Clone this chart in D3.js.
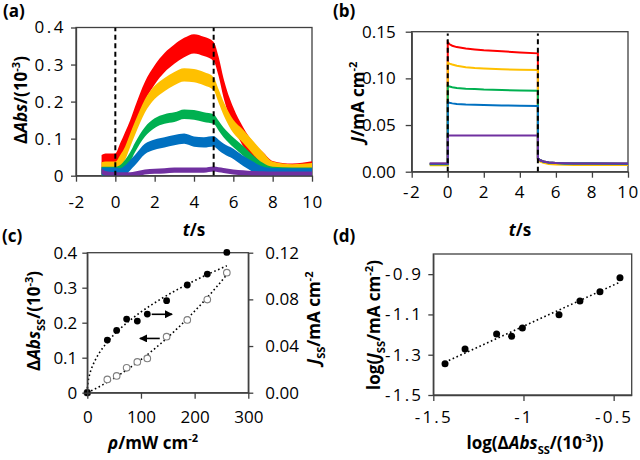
<!DOCTYPE html>
<html><head><meta charset="utf-8">
<script src="https://cdn.jsdelivr.net/npm/d3@7"></script>
<style>
body{margin:0;background:#fff}
svg{display:block}
text{font-family:'Open Sans',sans-serif;fill:#000}
</style>
</head><body>
<svg id="chart" width="640" height="460"></svg>
<script>
// ---------- DATA ----------
const seriesColors = ["#FF0000", "#FFC000", "#00B050", "#0070C0", "#7030A0"];

// (a) transient absorption, time (s) and band centres (10^-3)
const tA = [-0.7, -0.5, 0, 0.25, 0.5, 0.75, 1, 1.5, 2, 2.5, 3, 3.5, 4, 4.5, 5, 5.25, 5.5, 6, 6.5, 7, 7.5, 8, 9, 10];
const absRed    = [0.030,0.034,0.034,0.062,0.092,0.123,0.160,0.227,0.272,0.305,0.328,0.346,0.356,0.349,0.335,0.295,0.237,0.158,0.105,0.065,0.038,0.014,0.007,0.013];
const absYellow = [0.018,0.020,0.020,0.038,0.061,0.095,0.128,0.188,0.225,0.246,0.262,0.272,0.270,0.262,0.248,0.215,0.182,0.133,0.106,0.076,0.046,0.020,0.013,0.016];
const absGreen  = [0.011,0.011,0.011,0.016,0.030,0.050,0.076,0.118,0.142,0.153,0.158,0.166,0.164,0.158,0.153,0.135,0.117,0.090,0.067,0.042,0.022,0.011,0.009,0.009];
const absBlue   = [0.009,0.008,0.008,0.006,0.014,0.028,0.042,0.072,0.084,0.090,0.096,0.100,0.092,0.090,0.093,0.083,0.073,0.059,0.040,0.024,0.011,0.007,0.006,0.006];
const absPurple = [0.012,0.006,0.003,0.002,0.002,0.002,0.004,0.010,0.012,0.013,0.015,0.015,0.015,0.015,0.018,0.016,0.014,0.010,0.008,0.006,0.005,0.004,0.004,0.004];
const absNoise  = [0.026, 0.018, 0.013, 0.014, 0.007];  // half-width of the noisy band

// (b) photocurrent, time (s) and J (mA cm-2)
const tB = [-1, 0, 0, 0.1, 0.25, 0.5, 1, 1.5, 2, 3, 4, 5, 5, 5.1, 5.3, 5.6, 6, 6.5, 7, 8, 10];
const jRed    = [0.0085,0.0085,0.1386,0.1365,0.1350,0.1335,0.1320,0.1310,0.1300,0.1290,0.1278,0.1268,0.0145,0.0125,0.0110,0.0098,0.0092,0.0089,0.0088,0.0087,0.0086];
const jYellow = [0.0070,0.0070,0.1168,0.1158,0.1148,0.1135,0.1120,0.1110,0.1105,0.1098,0.1093,0.1089,0.0130,0.0110,0.0095,0.0083,0.0077,0.0074,0.0073,0.0072,0.0071];
const jGreen  = [0.0080,0.0080,0.0921,0.0912,0.0905,0.0898,0.0890,0.0885,0.0880,0.0875,0.0871,0.0868,0.0145,0.0125,0.0110,0.0098,0.0092,0.0089,0.0088,0.0087,0.0086];
const jBlue   = [0.0085,0.0085,0.0743,0.0738,0.0732,0.0726,0.0720,0.0717,0.0714,0.0710,0.0707,0.0704,0.0145,0.0125,0.0110,0.0098,0.0092,0.0089,0.0088,0.0087,0.0086];
const jPurple = [0.0088,0.0088,0.0387,0.0387,0.0387,0.0387,0.0387,0.0387,0.0387,0.0387,0.0388,0.0388,0.0145,0.0125,0.0110,0.0099,0.0093,0.0090,0.0089,0.0088,0.0087];

// (c) steady-state values vs light intensity
const rho   = [0, 37.3, 54.7, 73.3, 93.2, 111.8, 147.8, 186.3, 223.6, 260];
const absSS = [0, 0.038, 0.048, 0.071, 0.088, 0.098, 0.160, 0.208, 0.266, 0.343];
const jSS   = [0, 0.0451, 0.0534, 0.0631, 0.0614, 0.0674, 0.0789, 0.0923, 0.1017, 0.1202];

// (d) log-log
const logAbs = [-1.435, -1.324, -1.149, -1.066, -1.006, -0.803, -0.687, -0.576, -0.465];
const logJ   = [-1.345, -1.272, -1.197, -1.208, -1.167, -1.102, -1.033, -0.988, -0.918];

// ticks
const ticksAx = [-2, 0, 2, 4, 6, 8, 10];
const labelsAx = ["-2", "0", "2", "4", "6", "8", "10"];
const ticksAy = [0, 0.1, 0.2, 0.3, 0.4];
const labelsAy = ["0", "0.1", "0.2", "0.3", "0.4"];
const ticksBy = [0, 0.05, 0.10, 0.15];
const labelsBy = ["0.00", "0.05", "0.10", "0.15"];
const ticksCx = [0, 100, 200, 300];
const labelsCx = ["0", "100", "200", "300"];
const ticksCy = [0, 0.1, 0.2, 0.3, 0.4];
const labelsCy = ["0", "0.1", "0.2", "0.3", "0.4"];
const ticksCy2 = [0, 0.04, 0.08, 0.12];
const labelsCy2 = ["0.00", "0.04", "0.08", "0.12"];
const ticksDx = [-1.5, -1, -0.5];
const labelsDx = ["-1.5", "-1", "-0.5"];
const ticksDy = [-1.5, -1.3, -1.1, -0.9];
const labelsDy = ["-1.5", "-1.3", "-1.1", "-0.9"];
const switchTimes = [0, 5];
// arrows in (c): [rho from, rho to, left-axis value]
const arrowsC = [[120, 158, 0.224], [135, 98, 0.155]];

// ---------- DRAWING ----------
const svg = d3.select("#chart");
const AX = "#404040";
const defs = svg.append("defs");
defs.append("marker").attr("id", "arr").attr("viewBox", "0 0 10 10").attr("refX", 9).attr("refY", 5)
  .attr("markerWidth", 5).attr("markerHeight", 5).attr("orient", "auto")
  .append("path").attr("d", "M0,0L10,5L0,10Z").attr("fill", "#000");

function rich(x, y, parts, size, rotate) {
  const t = svg.append("text").attr("transform", `translate(${x},${y}) rotate(${rotate || 0})`)
    .attr("text-anchor", "middle").attr("font-size", size).attr("font-weight", "bold");
  let shift = 0;
  parts.forEach(([s, k]) => {
    const ts = t.append("tspan").text(s);
    const target = k === "sub" ? 0.28 * size : k === "sup" ? -0.42 * size : 0;
    ts.attr("dy", target - shift); shift = target;
    if (k === "sub" || k === "sup") ts.attr("font-size", size * 0.65);
    if (k === "i") ts.attr("font-style", "italic");
  });
}
function styleAxis(g, spacing) {
  g.selectAll(".domain").attr("stroke", AX).attr("stroke-width", 1.3);
  g.selectAll(".tick line").attr("stroke", AX).attr("stroke-width", 1.3);
  g.selectAll(".tick text").attr("font-size", 17).attr("fill", "#000")
    .attr("font-family", "'Open Sans',sans-serif").attr("letter-spacing", spacing || 0);
}
function frame(x0, x1, y0, y1) {
  svg.append("rect").attr("x", x0).attr("y", y1).attr("width", x1 - x0).attr("height", y0 - y1)
    .attr("fill", "none").attr("stroke", AX).attr("stroke-width", 1.3);
}
function clip(id, x0, x1, y0, y1) {
  defs.append("clipPath").attr("id", id).append("rect").attr("x", x0).attr("y", y1).attr("width", x1 - x0).attr("height", y0 - y1);
}
const lab = arr => (d, i) => arr[i];

// ---- (a) ----
{
  const x = d3.scaleLinear().domain([-2, 10]).range([76, 312]);
  const y = d3.scaleLinear().domain([0, 0.4]).range([175.7, 27.5]);
  clip("clipA", 76, 312, 175.7, 27.5);
  frame(76, 312, 175.7, 27.5);
  const data = [absRed, absYellow, absGreen, absBlue, absPurple];
  const g = svg.append("g").attr("clip-path", "url(#clipA)");
  data.forEach((vals, i) => {
    const area = d3.area().x((d, j) => x(tA[j])).y0(d => y(d - absNoise[i])).y1(d => y(d + absNoise[i])).curve(d3.curveMonotoneX);
    g.append("path").attr("d", area(vals)).attr("fill", seriesColors[i]);
  });
  switchTimes.forEach(t => g.append("line").attr("x1", x(t)).attr("x2", x(t)).attr("y1", y(0)).attr("y2", y(0.4))
    .attr("stroke", "#000").attr("stroke-width", 2).attr("stroke-dasharray", "5,3.5"));
  const gx = svg.append("g").attr("transform", `translate(0,${y(0)})`)
    .call(d3.axisBottom(x).tickValues(ticksAx).tickSize(6).tickSizeOuter(0).tickPadding(14).tickFormat(lab(labelsAx)));
  styleAxis(gx, 0.5);
  const gy = svg.append("g").attr("transform", `translate(${x(-2)},0)`)
    .call(d3.axisLeft(y).tickValues(ticksAy).tickSize(5).tickSizeOuter(0).tickPadding(5).tickFormat(lab(labelsAy)));
  styleAxis(gy, 2.5);
  rich(27, 100, [["Δ"], ["Abs", "i"], ["/(10"], ["-3", "sup"], [")"]], 17, -90);
  rich(194, 236, [["t", "i"], ["/s"]], 17);
  svg.append("text").attr("x", 3).attr("y", 17).attr("font-size", 17).attr("font-weight", "bold").text("(a)");
}

// ---- (b) ----
{
  const x = d3.scaleLinear().domain([-2, 10]).range([411.7, 628]);
  const y = d3.scaleLinear().domain([0, 0.15]).range([171.7, 31.7]);
  frame(411.7, 628, 171.7, 31.7);
  const data = [jRed, jYellow, jGreen, jBlue, jPurple];
  const line = d3.line().x((d, j) => x(tB[j])).y(d => y(d));
  data.forEach((vals, i) => svg.append("path").attr("d", line(vals)).attr("fill", "none")
    .attr("stroke", seriesColors[i]).attr("stroke-width", 2));
  switchTimes.forEach(t => svg.append("line").attr("x1", x(t)).attr("x2", x(t)).attr("y1", y(0)).attr("y2", y(0.148))
    .attr("stroke", "#000").attr("stroke-width", 2).attr("stroke-dasharray", "5,3.5"));
  const gx = svg.append("g").attr("transform", `translate(0,${y(0)})`)
    .call(d3.axisBottom(x).tickValues(ticksAx).tickSize(6).tickSizeOuter(0).tickPadding(8).tickFormat(lab(labelsAx)));
  styleAxis(gx, 1.5);
  const gy = svg.append("g").attr("transform", `translate(${x(-2)},0)`)
    .call(d3.axisLeft(y).tickValues(ticksBy).tickSize(6).tickSizeOuter(0).tickPadding(10).tickFormat(lab(labelsBy)));
  styleAxis(gy, 0);
  rich(364, 102, [["J", "i"], ["/mA cm"], ["-2", "sup"]], 17, -90);
  rich(520, 236, [["t", "i"], ["/s"]], 17);
  svg.append("text").attr("x", 333).attr("y", 17).attr("font-size", 17).attr("font-weight", "bold").text("(b)");
}

// least-squares fits computed from the data
function powerFit(xs, ys) {
  const pts = xs.map((v, i) => [v, ys[i]]).filter(p => p[0] > 0 && p[1] > 0).map(p => [Math.log(p[0]), Math.log(p[1])]);
  const mx = d3.mean(pts, p => p[0]), my = d3.mean(pts, p => p[1]);
  const b = d3.sum(pts, p => (p[0] - mx) * (p[1] - my)) / d3.sum(pts, p => (p[0] - mx) ** 2);
  const a = Math.exp(my - b * mx);
  return v => a * Math.pow(v, b);
}
function quadFit0(xs, ys) { // y = b1 x + b2 x^2
  const s2 = d3.sum(xs, v => v ** 2), s3 = d3.sum(xs, v => v ** 3), s4 = d3.sum(xs, v => v ** 4);
  const sy1 = d3.sum(xs, (v, i) => v * ys[i]), sy2 = d3.sum(xs, (v, i) => v * v * ys[i]);
  const det = s2 * s4 - s3 * s3;
  const b1 = (sy1 * s4 - s3 * sy2) / det, b2 = (s2 * sy2 - s3 * sy1) / det;
  return v => b1 * v + b2 * v * v;
}
function linFit(xs, ys) {
  const mx = d3.mean(xs), my = d3.mean(ys);
  const b = d3.sum(xs, (v, i) => (v - mx) * (ys[i] - my)) / d3.sum(xs, v => (v - mx) ** 2);
  return v => my + b * (v - mx);
}

// ---- (c) ----
{
  const x = d3.scaleLinear().domain([0, 300]).range([87.3, 248.3]);
  const y = d3.scaleLinear().domain([0, 0.4]).range([392.7, 252.7]);
  const y2 = d3.scaleLinear().domain([0, 0.12]).range([392.7, 252.7]);
  frame(87.3, 248.3, 392.7, 252.7);
  const fJ = powerFit(rho, jSS), fA = quadFit0(rho, absSS);
  const rhoMax = d3.max(rho);
  const xs = d3.range(0, 201).map(i => rhoMax * Math.pow(i / 200, 1.6));
  const dots = "1.6,2.6";
  svg.append("path").attr("d", d3.line().x(v => x(v)).y(v => y2(fJ(v)))(xs)).attr("fill", "none")
    .attr("stroke", "#000").attr("stroke-width", 1.6).attr("stroke-dasharray", dots);
  svg.append("path").attr("d", d3.line().x(v => x(v)).y(v => y(fA(v)))(xs)).attr("fill", "none")
    .attr("stroke", "#000").attr("stroke-width", 1.6).attr("stroke-dasharray", dots);
  rho.forEach((r, i) => svg.append("circle").attr("cx", x(r)).attr("cy", y(absSS[i])).attr("r", 3.3)
    .attr("fill", "#fff").attr("stroke", "#7f7f7f").attr("stroke-width", 1.1));
  rho.forEach((r, i) => svg.append("circle").attr("cx", x(r)).attr("cy", y2(jSS[i])).attr("r", 3.4).attr("fill", "#000"));
  arrowsC.forEach(([a, b, v]) => svg.append("line").attr("x1", x(a)).attr("x2", x(b)).attr("y1", y(v)).attr("y2", y(v))
    .attr("stroke", "#000").attr("stroke-width", 1.6).attr("marker-end", "url(#arr)"));
  const gx = svg.append("g").attr("transform", `translate(0,${y(0)})`)
    .call(d3.axisBottom(x).tickValues(ticksCx).tickSize(6).tickSizeOuter(0).tickPadding(12).tickFormat(lab(labelsCx)));
  styleAxis(gx, 0);
  const gy = svg.append("g").attr("transform", `translate(${x(0)},0)`)
    .call(d3.axisLeft(y).tickValues(ticksCy).tickSize(5).tickSizeOuter(0).tickPadding(5).tickFormat(lab(labelsCy)));
  styleAxis(gy, 0);
  const gy2 = svg.append("g").attr("transform", `translate(${x(300)},0)`)
    .call(d3.axisRight(y2).tickValues(ticksCy2).tickSize(5).tickSizeOuter(0).tickPadding(12).tickFormat(lab(labelsCy2)));
  styleAxis(gy2, 0);
  rich(40, 321, [["Δ"], ["Abs", "i"], ["SS", "sub"], ["/(10"], ["-3", "sup"], [")"]], 17, -90);
  rich(320, 318, [["J", "i"], ["SS", "sub"], ["/mA cm"], ["-2", "sup"]], 17, -90);
  rich(153, 449, [["ρ", "i"], ["/mW cm"], ["-2", "sup"]], 17);
  svg.append("text").attr("x", 2).attr("y", 242).attr("font-size", 17).attr("font-weight", "bold").text("(c)");
}

// ---- (d) ----
{
  const x = d3.scaleLinear().domain([-1.5, -0.4]).range([433.3, 631.7]);
  const y = d3.scaleLinear().domain([-1.5, -0.8]).range([395, 254]);
  frame(433.3, 631.7, 395, 254);
  const f = linFit(logAbs, logJ);
  const ext = d3.extent(logAbs);
  svg.append("line").attr("x1", x(ext[0])).attr("x2", x(ext[1])).attr("y1", y(f(ext[0]))).attr("y2", y(f(ext[1])))
    .attr("stroke", "#000").attr("stroke-width", 1.6).attr("stroke-dasharray", "1.6,2.6");
  logAbs.forEach((v, i) => svg.append("circle").attr("cx", x(v)).attr("cy", y(logJ[i])).attr("r", 3.5).attr("fill", "#000"));
  const gx = svg.append("g").attr("transform", `translate(0,${y(-1.5)})`)
    .call(d3.axisBottom(x).tickValues(ticksDx).tickSize(6).tickSizeOuter(0).tickPadding(10).tickFormat(lab(labelsDx)));
  styleAxis(gx, 2.2);
  const gy = svg.append("g").attr("transform", `translate(${x(-1.5)},0)`)
    .call(d3.axisLeft(y).tickValues(ticksDy).tickSize(5).tickSizeOuter(0).tickPadding(5).tickFormat(lab(labelsDy)));
  styleAxis(gy, 2.2);
  rich(380, 325, [["log("], ["J", "i"], ["SS", "sub"], ["/mA cm"], ["-2", "sup"], [")"]], 17, -90);
  rich(535, 449, [["log(Δ"], ["Abs", "i"], ["SS", "sub"], ["/(10"], ["-3", "sup"], ["))"]], 17);
  svg.append("text").attr("x", 333).attr("y", 242).attr("font-size", 17).attr("font-weight", "bold").text("(d)");
}
</script>
</body></html>
